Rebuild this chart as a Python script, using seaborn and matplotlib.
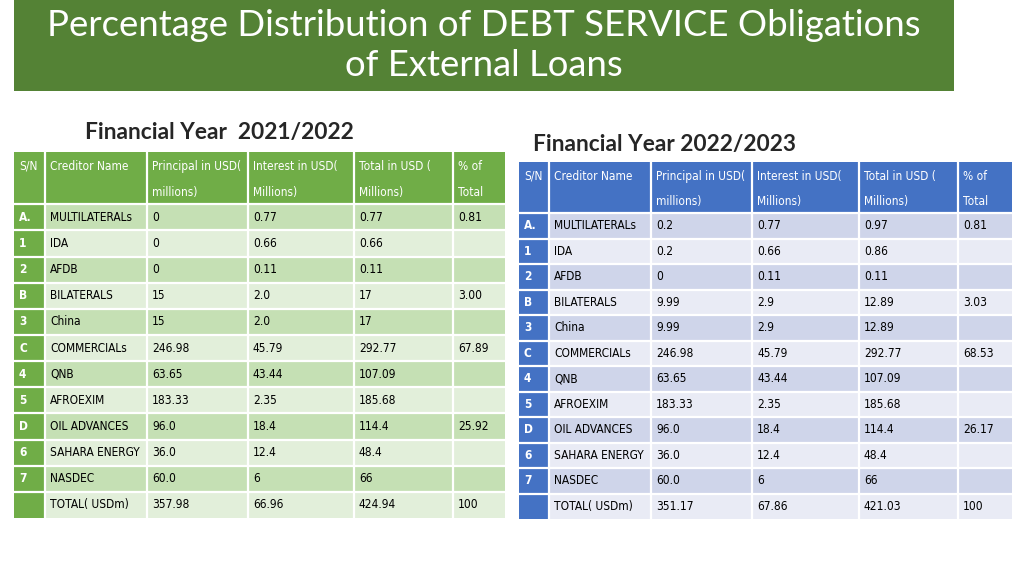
import numpy as np
import matplotlib
matplotlib.use("Agg")
import matplotlib.pyplot as plt
from matplotlib.colors import ListedColormap
import seaborn as sns

sns.set_theme(style="white")
plt.rcParams['font.family'] = ['Lato', 'DejaVu Sans']

# ---- data ----
title = "Percentage Distribution of DEBT SERVICE Obligations\nof External Loans"
headers = ["S/N", "Creditor Name", "Principal in USD(\nmillions)",
           "Interest in USD(\nMillions)", "Total in USD (\nMillions)", "% of\nTotal"]
sn = ["A.", "1", "2", "B", "3", "C", "4", "5", "D", "6", "7", ""]
creditors = ["MULTILATERALs", "IDA", "AFDB", "BILATERALS", "China", "COMMERCIALs",
             "QNB", "AFROEXIM", "OIL ADVANCES", "SAHARA ENERGY", "NASDEC", "TOTAL( USDm)"]

principal_21 = ["0", "0", "0", "15", "15", "246.98", "63.65", "183.33", "96.0", "36.0", "60.0", "357.98"]
interest_21 = ["0.77", "0.66", "0.11", "2.0", "2.0", "45.79", "43.44", "2.35", "18.4", "12.4", "6", "66.96"]
total_21 = ["0.77", "0.66", "0.11", "17", "17", "292.77", "107.09", "185.68", "114.4", "48.4", "66", "424.94"]
pct_21 = ["0.81", "", "", "3.00", "", "67.89", "", "", "25.92", "", "", "100"]

principal_22 = ["0.2", "0.2", "0", "9.99", "9.99", "246.98", "63.65", "183.33", "96.0", "36.0", "60.0", "351.17"]
interest_22 = ["0.77", "0.66", "0.11", "2.9", "2.9", "45.79", "43.44", "2.35", "18.4", "12.4", "6", "67.86"]
total_22 = ["0.97", "0.86", "0.11", "12.89", "12.89", "292.77", "107.09", "185.68", "114.4", "48.4", "66", "421.03"]
pct_22 = ["0.81", "", "", "3.03", "", "68.53", "", "", "26.17", "", "", "100"]

col_widths_21 = [31, 102, 101, 106, 99, 52]
col_widths_22 = [30, 102, 101, 107, 99, 54]

green = ["#70ad47", "#c5e0b4", "#e2efda"]
blue = ["#4472c4", "#cfd5ea", "#e9ebf5"]

cell_font = dict(family=["DejaVu Sans"], fontstretch="condensed", fontsize=8.6)

W, H = 1024, 576
fig = plt.figure(figsize=(W / 100, H / 100), dpi=100)


def px_axes(x0, y0, x1, y1):
    return fig.add_axes([x0 / W, 1 - y1 / H, (x1 - x0) / W, (y1 - y0) / H])


def draw_table(ax, cols, widths, colors):
    n = len(cols[0])
    # style codes: 0 header / S/N, 1 dark band, 2 light band
    style = np.zeros((n + 2, len(widths)))
    for i in range(n):
        style[i + 2, 1:] = 1 if i % 2 == 0 else 2
    grid = np.repeat(style, widths, axis=1)
    sns.heatmap(grid, ax=ax, cmap=ListedColormap(colors), vmin=0, vmax=2,
                cbar=False, xticklabels=False, yticklabels=False)
    edges = np.concatenate([[0], np.cumsum(widths)])
    for e in edges[1:-1]:
        ax.axvline(e, color="white", lw=1.6)
    for r in range(2, n + 2):
        ax.axhline(r, color="white", lw=1.6)
    for c, h in enumerate(headers):
        for k, line in enumerate(h.split("\n")):
            ax.text(edges[c] + 5, k + 0.55, line, color="white",
                    va="center", ha="left", **cell_font)
    for c, col in enumerate(cols):
        for i, v in enumerate(col):
            ax.text(edges[c] + 5, i + 2.5, v, va="center", ha="left",
                    color="white" if c == 0 else "black",
                    fontweight="bold" if c == 0 else "normal", **cell_font)


# banner
ax_b = px_axes(14, 0, 954, 91)
ax_b.set_facecolor("#548235")
ax_b.set_xticks([])
ax_b.set_yticks([])
for s in ax_b.spines.values():
    s.set_visible(False)
ax_b.text(0.5, 0.5, title, transform=ax_b.transAxes, ha="center", va="center",
          color="white", fontsize=26.3, linespacing=1.27)

ax1 = px_axes(14, 152, 505, 518)
draw_table(ax1, [sn, creditors, principal_21, interest_21, total_21, pct_21], col_widths_21, green)
fig.text(85 / W, 1 - 133 / H, "Financial Year  2021/2022", fontsize=16.4, fontweight="bold",
         va="center", ha="left")

ax2 = px_axes(519, 162, 1012, 519)
draw_table(ax2, [sn, creditors, principal_22, interest_22, total_22, pct_22], col_widths_22, blue)
fig.text(533 / W, 1 - 144 / H, "Financial Year 2022/2023", fontsize=16.3, fontweight="bold",
         va="center", ha="left")

fig.savefig("out.png", dpi=100)
